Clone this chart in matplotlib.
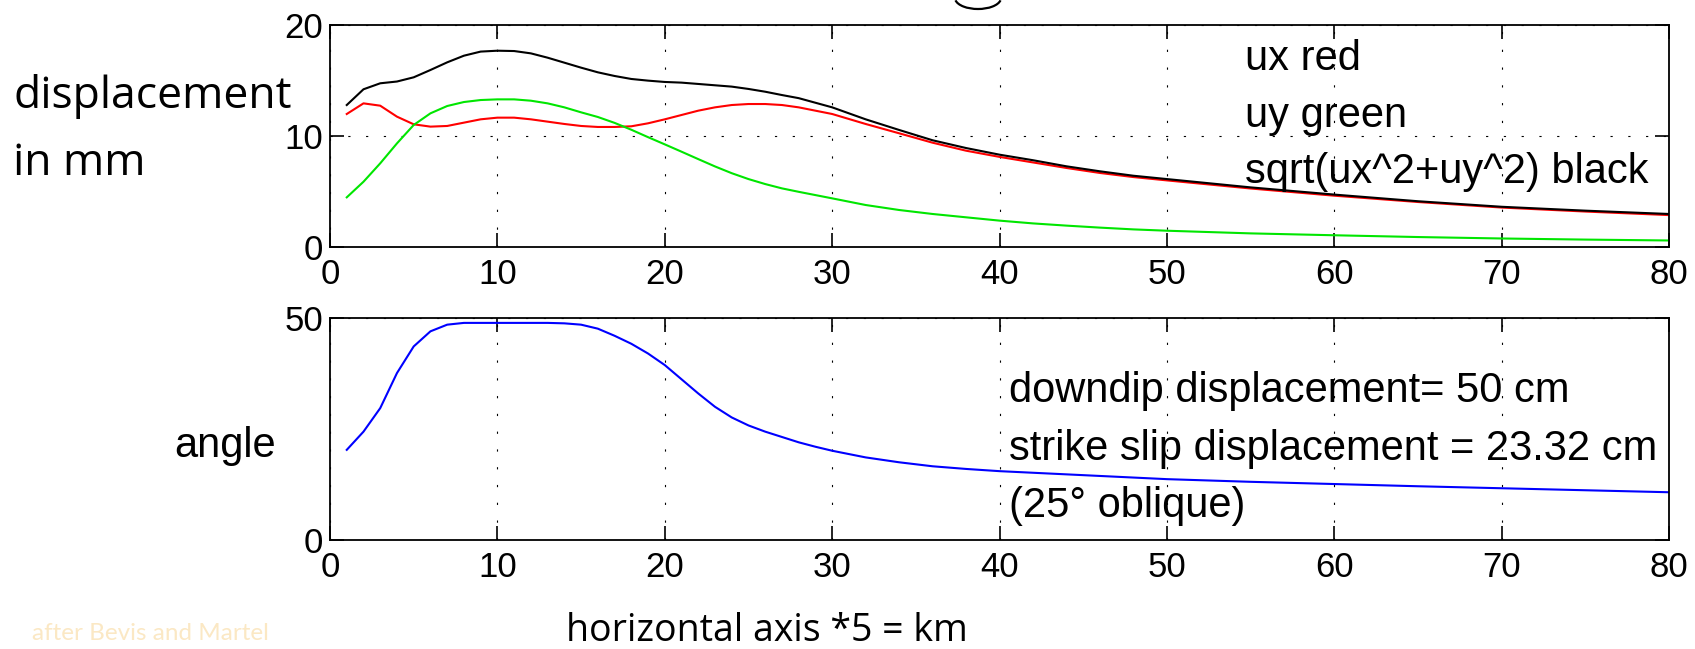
import matplotlib.pyplot as plt
from matplotlib.patches import Arc

# horizontal position (plot units, *5 = km)
x_top = [1, 2, 3, 4, 5, 6, 7, 8, 9, 10, 11, 12, 13, 14, 15, 16, 17, 18, 19, 20,
         21, 22, 23, 24, 25, 26, 27, 28, 30, 32, 34, 36, 38, 40, 42, 44, 46, 48,
         50, 55, 60, 65, 70, 75, 80]
# ux (red), mm
ux = [11.97, 12.93, 12.72, 11.73, 11.04, 10.83, 10.89, 11.19, 11.49, 11.64,
      11.64, 11.49, 11.28, 11.07, 10.89, 10.80, 10.80, 10.86, 11.13, 11.49,
      11.88, 12.27, 12.57, 12.78, 12.87, 12.87, 12.78, 12.57, 11.97, 11.07,
      10.23, 9.38, 8.66, 8.10, 7.60, 7.10, 6.65, 6.28, 5.98, 5.25, 4.60, 4.03,
      3.53, 3.17, 2.85]
# uy (green), mm
uy = [4.45, 5.86, 7.52, 9.32, 10.98, 12.03, 12.69, 13.05, 13.23, 13.29, 13.29,
      13.17, 12.93, 12.57, 12.12, 11.70, 11.17, 10.55, 9.88, 9.23, 8.57, 7.90,
      7.24, 6.63, 6.10, 5.65, 5.26, 4.95, 4.36, 3.76, 3.31, 2.95, 2.65, 2.35,
      2.10, 1.90, 1.72, 1.56, 1.44, 1.20, 1.03, 0.87, 0.74, 0.64, 0.56]
# sqrt(ux^2+uy^2) (black), mm
utot = [12.78, 14.20, 14.74, 14.90, 15.28, 15.94, 16.63, 17.23, 17.60, 17.68,
        17.65, 17.44, 17.05, 16.60, 16.15, 15.73, 15.40, 15.13, 14.98, 14.86,
        14.80, 14.68, 14.56, 14.44, 14.23, 13.98, 13.68, 13.40, 12.57, 11.49,
        10.53, 9.60, 8.90, 8.30, 7.80, 7.25, 6.80, 6.40, 6.10, 5.35, 4.70,
        4.10, 3.60, 3.25, 2.95]

x_bot = [1, 2, 3, 4, 5, 6, 7, 8, 9, 10, 11, 12, 13, 14, 15, 16, 17, 18, 19, 20,
         21, 22, 23, 24, 25, 26, 27, 28, 29, 30, 32, 34, 36, 38, 40, 45, 50, 55,
         60, 65, 70, 75, 80]
angle = [20.3, 24.4, 29.7, 37.6, 43.6, 47.0, 48.5, 48.9, 48.9, 48.9, 48.9, 48.9,
         48.9, 48.8, 48.5, 47.6, 46.0, 44.2, 42.0, 39.4, 36.2, 33.0, 30.0, 27.6,
         25.8, 24.4, 23.2, 22.0, 21.0, 20.1, 18.6, 17.5, 16.6, 16.0, 15.5, 14.6,
         13.7, 13.1, 12.6, 12.1, 11.65, 11.2, 10.75]

xticks = [0, 10, 20, 30, 40, 50, 60, 70, 80]

tick_font = 'Liberation Sans'
hum_font = 'Open Sans'

fig = plt.figure(figsize=(16.95, 6.49), dpi=100)
ax1 = fig.add_axes([0.1947, 0.6199, 0.7900, 0.3416])
ax2 = fig.add_axes([0.1947, 0.1680, 0.7900, 0.3420])

ax1.plot(x_top, ux, color='#ff0000', lw=1.5)
ax1.plot(x_top, uy, color='#00e600', lw=1.5)
ax1.plot(x_top, utot, color='black', lw=1.5)
ax1.set_ylim(0, 20)
ax1.set_yticks([0, 10, 20])

ax2.plot(x_bot, angle, color='#0000ff', lw=1.5)
ax2.set_ylim(0, 50)
ax2.set_yticks([0, 50])

for ax in (ax1, ax2):
    ax.set_xlim(0, 80)
    ax.set_xticks(xticks)
    ax.grid(True, color='black', lw=0.8, linestyle=(0, (2, 14)))
    ax.tick_params(direction='in', length=10, width=1.2, top=True, right=True,
                   labelsize=25, pad=8)
    ax.tick_params(axis='y', pad=5)
    for lab in ax.get_xticklabels() + ax.get_yticklabels():
        lab.set_fontfamily(tick_font)
    for s in ax.spines.values():
        s.set_linewidth(1.3)

# legend-like notes
ax1.text(0.683, 0.797, 'ux red', transform=ax1.transAxes, fontsize=30,
         family=tick_font, va='baseline')
ax1.text(0.683, 0.541, 'uy green', transform=ax1.transAxes, fontsize=30,
         family=tick_font, va='baseline')
ax1.text(0.683, 0.286, 'sqrt(ux^2+uy^2) black', transform=ax1.transAxes,
         fontsize=30, family=tick_font, va='baseline')

ax2.text(0.507, 0.623, 'downdip displacement= 50 cm', transform=ax2.transAxes,
         fontsize=30, family=tick_font, va='baseline')
ax2.text(0.507, 0.360, 'strike slip displacement = 23.32 cm',
         transform=ax2.transAxes, fontsize=30, family=tick_font, va='baseline')
ax2.text(0.507, 0.105, '(25° oblique)', transform=ax2.transAxes, fontsize=30,
         family=tick_font, va='baseline')

# labels
fig.text(0.0077, 0.8336, 'displacement', fontsize=32, family=hum_font, va='baseline')
fig.text(0.0077, 0.7304, 'in mm', fontsize=32, family=hum_font, va='baseline')
fig.text(0.1027, 0.2963, 'angle', fontsize=30, family=tick_font, va='baseline')
fig.text(0.334, 0.0125, 'horizontal axis *5 = km', fontsize=27, family=hum_font,
         va='baseline')
fig.text(0.0189, 0.0135, 'after Bevis and Martel', fontsize=17.5, family='Lato',
         color='#fbe8c4', va='baseline')

# tail of a title glyph cut off by the top edge
fig.add_artist(Arc((978 / 1695, 651 / 649), 46 / 1695, 22 / 649,
                   theta1=195, theta2=345, transform=fig.transFigure,
                   color='black', lw=1.6))

fig.savefig('out.png', dpi=100)
